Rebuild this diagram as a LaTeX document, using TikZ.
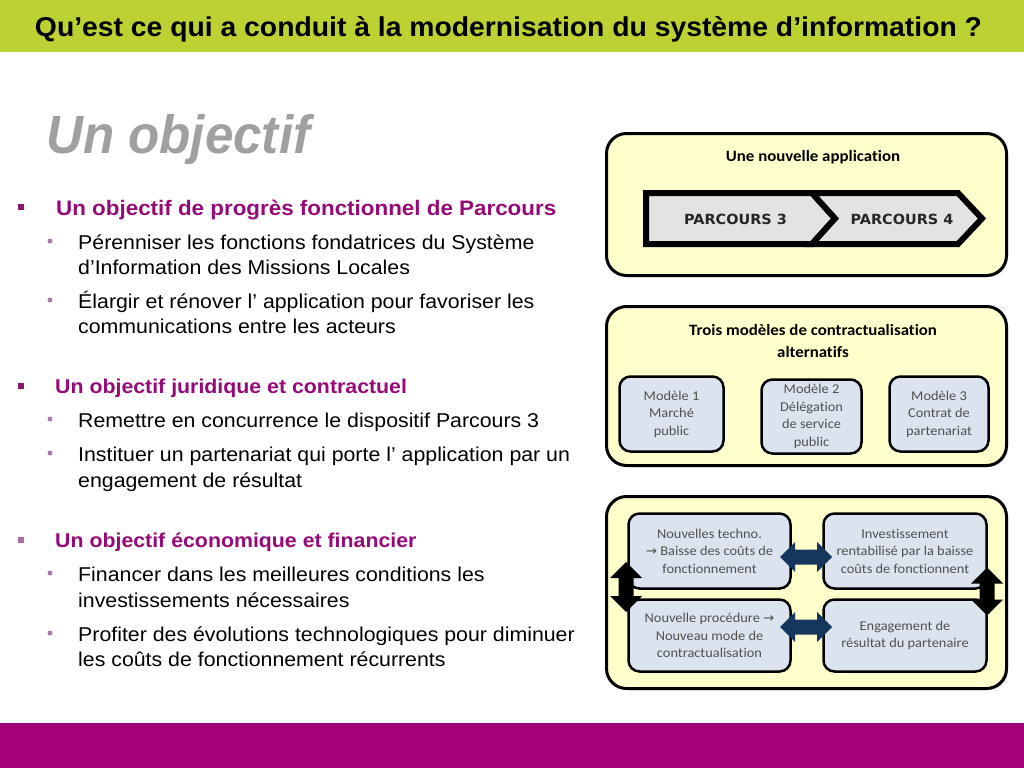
\documentclass[tikz,border=0pt]{standalone}
\usepackage{fontspec}
\setmainfont{Liberation Sans}[FakeStretch=1.066]
\newfontfamily\calfont{Carlito}[FakeStretch=1.066,Ligatures=NoCommon]
\newfontfamily\djvfont{DejaVu Sans}[FakeStretch=1.03]
\usetikzlibrary{shadows,calc}

\definecolor{hdrgreen}{RGB}{189,209,50}
\definecolor{footmag}{RGB}{163,0,122}
\definecolor{purp}{RGB}{150,10,120}
\definecolor{bulletA}{RGB}{135,25,105}
\definecolor{bulletB}{RGB}{170,110,160}
\definecolor{dotc}{RGB}{165,125,165}
\definecolor{titlegray}{RGB}{160,160,160}
\definecolor{boxyellow}{RGB}{255,255,204}
\definecolor{boxblue}{RGB}{219,228,238}
\definecolor{chevgray}{RGB}{227,227,227}
\definecolor{navy}{RGB}{23,54,93}
\definecolor{textgray}{RGB}{80,80,80}

\newcommand{\hdarrow}[3]{% center x, center y, color
  \fill[#3] (#1-26,#2) -- (#1-11,#2-15) -- (#1-11,#2-7.5) -- (#1+11,#2-7.5) -- (#1+11,#2-15)
    -- (#1+26,#2) -- (#1+11,#2+15) -- (#1+11,#2+7.5) -- (#1-11,#2+7.5) -- (#1-11,#2+15) -- cycle;}
\newcommand{\vdarrow}[4]{% center x, center y, half length, color
  \fill[#4] (#1,#2-#3) -- (#1+16,#2-#3+16) -- (#1+7.5,#2-#3+16) -- (#1+7.5,#2+#3-16) -- (#1+16,#2+#3-16)
    -- (#1,#2+#3) -- (#1-16,#2+#3-16) -- (#1-7.5,#2+#3-16) -- (#1-7.5,#2-#3+16) -- (#1-16,#2-#3+16) -- cycle;}
\newcommand{\rarr}{{\djvfont\fontsize{13}{12}\selectfont →}}

\begin{document}
\begin{tikzpicture}[x=1pt,y=-1pt,
  lone/.style={anchor=base west, inner sep=0, font=\fontsize{20}{24}\selectfont\bfseries, text=purp},
  ltwo/.style={anchor=base west, inner sep=0, font=\fontsize{20}{24}\selectfont, text=black},
  sqbullet/.style={rectangle, minimum size=6.5pt, inner sep=0, fill=#1},
  dotbullet/.style={circle, minimum size=5pt, inner sep=0, fill=dotc},
  bigbox/.style={draw, line width=3pt, fill=boxyellow, rounded corners=20pt, inner sep=0,
    drop shadow={shadow xshift=1.5pt, shadow yshift=-1.5pt, opacity=0.45}},
  boxtitle/.style={align=center, font=\calfont\bfseries\fontsize{15.8}{22}\selectfont, inner sep=0},
  smallbox/.style={draw, line width=2.5pt, fill=boxblue, rounded corners=11pt, inner sep=0,
    text=textgray, align=center, font=\calfont\fontsize{13.5}{17.5}\selectfont},
  chev/.style={draw, line width=6pt, line join=miter, fill=chevgray},
  chevlabel/.style={font=\djvfont\bfseries\fontsize{14}{16}\selectfont, text=black!85, inner sep=0}
]
\useasboundingbox (0,0) rectangle (1024,768);

% header and footer
\fill[hdrgreen] (0,0) rectangle (1024,52);
\node[anchor=base, inner sep=0] (hdr) at (508.5,37) {\resizebox{947pt}{20pt}{\bfseries Qu’est ce qui a conduit à la modernisation du système d’information ?}};
\fill[footmag] (0,723) rectangle (1024,768);

% title
\node[anchor=base west, inner sep=0, text=titlegray] (ttl) at (46,153) {\resizebox{264pt}{39pt}{\bfseries\itshape Un objectif}};

% left list
\node[sqbullet=bulletA] (s1) at (21,207) {};
\node[lone, font=\fontsize{21}{24}\selectfont\bfseries] (a1) at (56,215) {Un objectif de progrès fonctionnel de Parcours};
\node[dotbullet] (d1) at (50,241) {};
\node[ltwo] (a2) at (78,249) {Pérenniser les fonctions fondatrices du Système};
\node[ltwo] (a3) at (78,274) {d’Information des Missions Locales};
\node[dotbullet] (d2) at (50,300) {};
\node[ltwo] (a4) at (78,308) {Élargir et rénover l’ application pour favoriser les};
\node[ltwo] (a5) at (78,333) {communications entre les acteurs};

\node[sqbullet=bulletA] (s2) at (21,386) {};
\node[lone] (b1t) at (55,393) {Un objectif juridique et contractuel};
\node[dotbullet] (d3) at (50,419) {};
\node[ltwo] (b2t) at (78,427) {Remettre en concurrence le dispositif Parcours 3};
\node[dotbullet] (d4) at (50,453) {};
\node[ltwo] (b3t) at (78,461) {Instituer un partenariat qui porte l’ application par un};
\node[ltwo] (b4t) at (78,487) {engagement de résultat};

\node[sqbullet=bulletB] (s3) at (21,540) {};
\node[lone] (c1) at (55,547) {Un objectif économique et financier};
\node[dotbullet] (d5) at (50,573) {};
\node[ltwo] (c2) at (78,581) {Financer dans les meilleures conditions les};
\node[ltwo] (c3) at (78,607) {investissements nécessaires};
\node[dotbullet] (d6) at (50,633) {};
\node[ltwo] (c4) at (78,641) {Profiter des évolutions technologiques pour diminuer};
\node[ltwo] (c5) at (78,666) {les coûts de fonctionnement récurrents};

% box 1
\node[bigbox, minimum width=400pt, minimum height=142pt] (bx1) at (806.5,204.5) {};
\node[boxtitle] (t1) at (813,157) {Une nouvelle application};
\path[chev] (646,193) -- (812,193) -- (835,218.5) -- (812,244) -- (646,244) -- cycle;
\path[chev] (812,193) -- (958,193) -- (982,218.5) -- (958,244) -- (812,244) -- (835,218.5) -- cycle;
\node[chevlabel] (p3) at (735.5,219) {PARCOURS 3};
\node[chevlabel] (p4) at (902,219) {PARCOURS 4};

% box 2
\node[bigbox, minimum width=400pt, minimum height=159pt] (bx2) at (806.5,386) {};
\node[boxtitle] (t2) at (813,341) {Trois modèles de contractualisation\\alternatifs};
\node[smallbox, minimum width=104pt, minimum height=75pt] (m1) at (671.5,414) {Modèle 1\\Marché\\public};
\node[smallbox, minimum width=100pt, minimum height=74pt] (m2) at (811.5,416.5) {Modèle 2\\Délégation\\de service\\public};
\node[smallbox, minimum width=99pt, minimum height=75pt] (m3) at (939,414) {Modèle 3\\Contrat de\\partenariat};

% box 3
\node[bigbox, minimum width=400pt, minimum height=192pt] (bx3) at (806.5,592.5) {};
\node[smallbox, minimum width=162pt, minimum height=75pt] (tl) at (709.5,551) {Nouvelles techno.\\\rarr{} Baisse des coûts de\\fonctionnement};
\node[smallbox, minimum width=163pt, minimum height=75pt] (tr) at (905,551) {Investissement\\rentabilisé par la baisse\\coûts de fonctionnent};
\node[smallbox, minimum width=162pt, minimum height=72pt] (bl) at (709.5,635.5) {Nouvelle procédure \rarr\\Nouveau mode de\\contractualisation};
\node[smallbox, minimum width=163pt, minimum height=72pt] (br) at (905,635.5) {Engagement de\\résultat du partenaire};

\hdarrow{806}{557}{navy}
\hdarrow{806}{627}{navy}
\vdarrow{626}{587}{25}{black}
\vdarrow{987}{591.5}{24}{black}
\end{tikzpicture}
\end{document}
